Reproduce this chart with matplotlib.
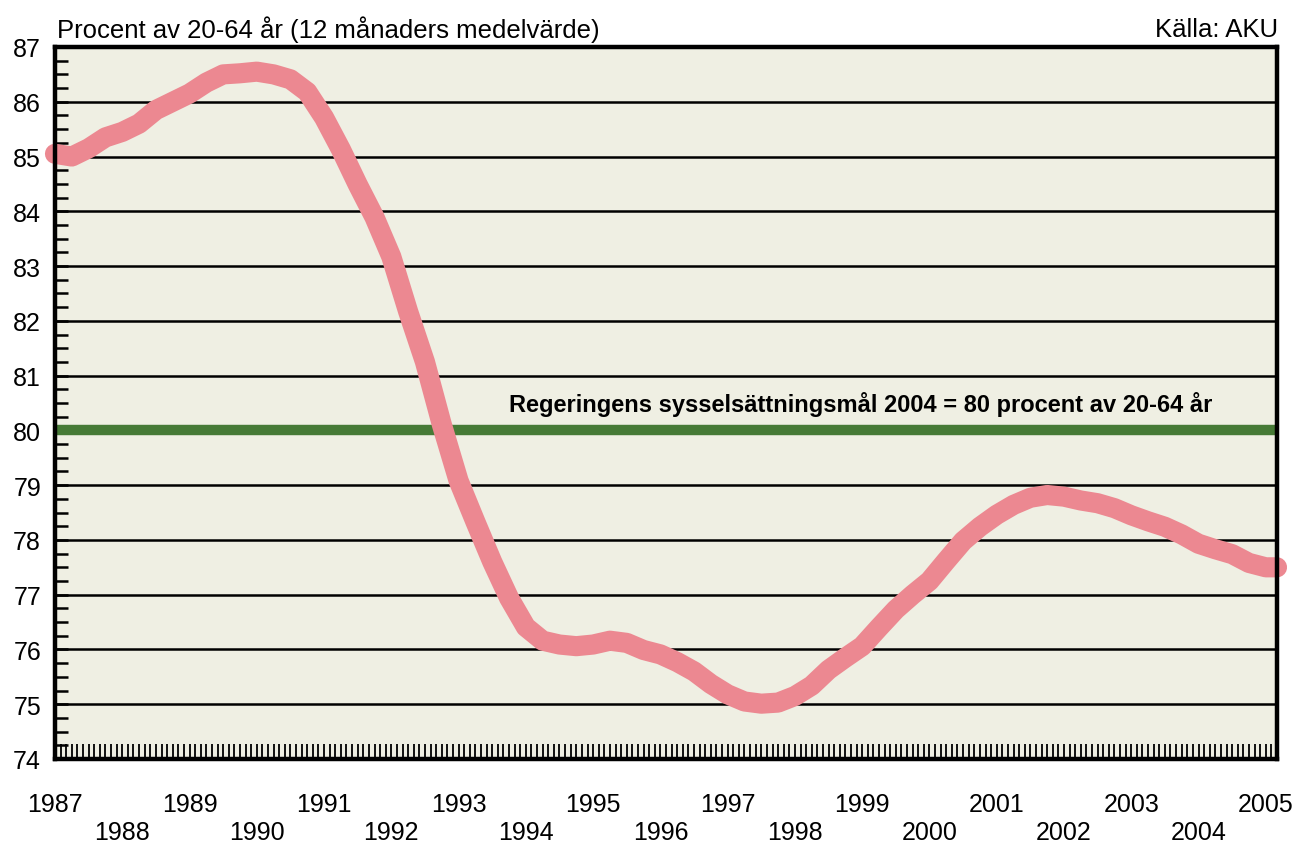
import numpy as np
import matplotlib
matplotlib.use("Agg")
import matplotlib.pyplot as plt
from matplotlib.ticker import MultipleLocator, FixedLocator

plt.rcParams['font.family'] = ['Liberation Sans', 'DejaVu Sans']

# Quarterly readings of the 12-month moving average (percent of 20-64 year olds)
years = [1987 + q / 4 for q in range(73)] + [2005 + 2 / 12]
rate = [
    85.05, 85.00, 85.15, 85.35,
    85.45, 85.60, 85.85, 86.00,
    86.15, 86.35, 86.50, 86.52,
    86.55, 86.50, 86.41, 86.18,
    85.71, 85.13, 84.49, 83.89,
    83.17, 82.17, 81.25, 80.11,
    79.08, 78.33, 77.60, 76.94,
    76.41, 76.16, 76.09, 76.06,
    76.09, 76.16, 76.12, 75.99,
    75.91, 75.77, 75.60, 75.37,
    75.18, 75.05, 75.01, 75.03,
    75.15, 75.34, 75.63, 75.85,
    76.06, 76.40, 76.73, 77.00,
    77.25, 77.62, 77.98, 78.24,
    78.46, 78.64, 78.77, 78.82,
    78.79, 78.72, 78.67, 78.58,
    78.45, 78.34, 78.24, 78.10,
    77.93, 77.83, 77.74, 77.58,
    77.50, 77.50,
]
target = 80
target_label = "Regeringens sysselsättningsmål 2004 = 80 procent av 20-64 år"
year_labels = list(range(1987, 2006))
title_left = "Procent av 20-64 år (12 månaders medelvärde)"
title_right = "Källa: AKU"

fig = plt.figure(figsize=(12.97, 8.45), dpi=100)
ax = fig.add_axes([55 / 1297, 1 - 760 / 845, (1277 - 55) / 1297, (760 - 48) / 845])
ax.set_facecolor('#EFEFE3')

ax.set_xlim(1987, 2005 + 2 / 12)
ax.set_ylim(74, 87)

# grid lines
for v in range(75, 87):
    ax.axhline(v, color='black', lw=1.8, zorder=1)

ax.axhline(target, color='#467A36', lw=7.5, zorder=2)
ax.text(1993.75, 80.27, target_label, fontsize=17, fontweight='bold',
        ha='left', va='bottom', zorder=3)

ax.plot(years, rate, color='#EC8891', lw=14.5, solid_capstyle='round',
        solid_joinstyle='round', zorder=4, clip_on=False)

for s in ax.spines.values():
    s.set_linewidth(3.2)
    s.set_color('black')
    s.set_zorder(5)

# y ticks
ax.yaxis.set_major_locator(MultipleLocator(1))
ax.yaxis.set_minor_locator(MultipleLocator(0.25))
ax.tick_params(axis='y', which='both', direction='in', length=9, width=1.8,
               labelsize=18, pad=10, right=False)

# x ticks
ax.xaxis.set_major_locator(FixedLocator(year_labels))
ax.set_xticklabels([str(y) if (y - 1987) % 2 == 0 else "\n" + str(y) for y in year_labels])
ax.xaxis.set_minor_locator(MultipleLocator(1 / 12))
ax.tick_params(axis='x', which='both', direction='in', length=11, width=1.3,
               labelsize=18, pad=24, top=False)
for lbl in ax.get_xticklabels():
    lbl.set_linespacing(1.2)

fig.text(57 / 1297, 1 - 30 / 845, title_left, fontsize=18.5, ha='left', va='center')
fig.text(1278 / 1297, 1 - 30 / 845, title_right, fontsize=18.5, ha='right', va='center')

fig.savefig('out.png', dpi=100)
